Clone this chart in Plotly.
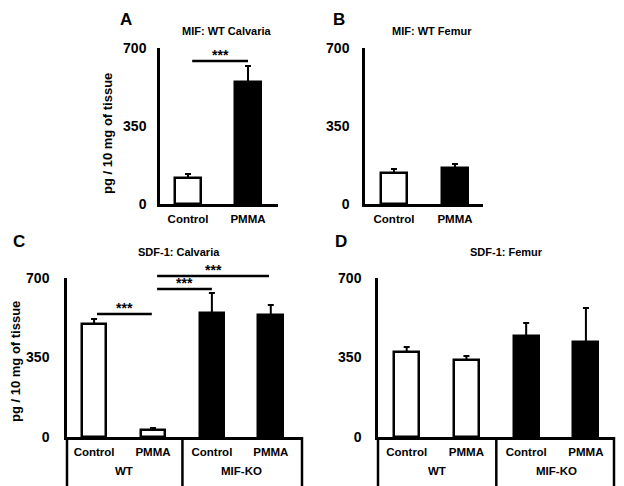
import plotly.graph_objects as go

# Panel data (pg / 10 mg of tissue)
ab_labels = ["Control", "PMMA"]
cd_labels = ["Control", "PMMA", "Control", "PMMA"]
cd_groups = ["WT", "MIF-KO"]

a_means = [117, 547]
a_err = [18, 72]
b_means = [139, 161]
b_err = [18, 18]
c_means = [497, 31, 546, 537]
c_err = [22, 9, 88, 44]
d_means = [374, 339, 445, 418]
d_err = [22, 18, 57, 150]

ab_colors = ["white", "black"]
cd_colors = ["white", "white", "black", "black"]

# significance bars: (from, to, height)
a_sig = [(0.07, 1.0, 642)]
c_sig = [(0.05, 0.98, 541), (1.07, 2.0, 652), (1.07, 2.97, 709)]

YMAX = 700
FONT = "Arial, Liberation Sans, sans-serif"
# the page body keeps its 8px margin, so the figure is 8px smaller and shifted
OFF = 8
W, H = 624 - OFF, 486 - OFF


def px_x(p):
    return (p - OFF) / W


def px_y(p):
    return 1 - (p - OFF) / H


panels = [
    dict(ax="", means=a_means, err=a_err, colors=ab_colors, labels=ab_labels,
         xd=(160, 278), yd=(204, 48), xr=(-0.467, 1.5), title="MIF: WT Calvaria",
         tpos=(227, 31), letter="A", lx=126, tl=8),
    dict(ax="2", means=b_means, err=b_err, colors=ab_colors, labels=ab_labels,
         xd=(365, 483), yd=(204, 48), xr=(-0.475, 1.46), title="MIF: WT Femur",
         tpos=(432, 31), letter="B", lx=339, tl=10),
    dict(ax="3", means=c_means, err=c_err, colors=cd_colors, labels=cd_labels,
         xd=(67, 302), yd=(437, 278), xr=(-0.46, 3.53), title="SDF-1: Calvaria",
         tpos=(179, 252), letter="C", lx=19, tl=12),
    dict(ax="4", means=d_means, err=d_err, colors=cd_colors, labels=cd_labels,
         xd=(378, 614), yd=(437, 278), xr=(-0.48, 3.47), title="SDF-1: Femur",
         tpos=(506, 252), letter="D", lx=341, tl=11),
]

fig = go.Figure()
annotations = []
shapes = []

for p in panels:
    n = len(p["means"])
    xs = list(range(n))
    fig.add_trace(go.Bar(
        x=xs, y=p["means"],
        xaxis="x" + p["ax"], yaxis="y" + p["ax"],
        width=0.42,
        marker=dict(color=p["colors"], line=dict(color="black", width=2.5)),
        error_y=dict(type="data", symmetric=False, array=p["err"],
                     arrayminus=[0] * n, color="black", thickness=2, width=3),
        showlegend=False,
    ))
    fig.update_layout({
        "xaxis" + p["ax"]: dict(
            domain=[px_x(p["xd"][0]), px_x(p["xd"][1])],
            range=list(p["xr"]), anchor="y" + p["ax"],
            tickvals=xs, ticktext=p["labels"], automargin=False,
            showline=True, linecolor="black", linewidth=2.5,
            ticks="outside", ticklen=2, tickcolor="rgba(0,0,0,0)",
            showgrid=False, zeroline=False,
            tickfont=dict(family=FONT, size=11.5, color="black", weight="bold"),
        ),
        "yaxis" + p["ax"]: dict(
            domain=[px_y(p["yd"][0]), px_y(p["yd"][1])],
            range=[0, YMAX], anchor="x" + p["ax"],
            tickvals=[0, 350, 700], automargin=False,
            showline=True, linecolor="black", linewidth=2.5,
            ticks="outside", ticklen=p["tl"], tickcolor="rgba(0,0,0,0)",
            showgrid=False, zeroline=False,
            tickfont=dict(family=FONT, size=14, color="black", weight="bold"),
        ),
    })
    annotations.append(dict(
        text=p["title"], x=px_x(p["tpos"][0]), y=px_y(p["tpos"][1]),
        xref="paper", yref="paper", showarrow=False,
        xanchor="center", yanchor="middle",
        font=dict(family=FONT, size=11, color="black", weight="bold"),
    ))

# panel letters
for p, top in zip(panels, [OFF, OFF, 230, 230]):
    annotations.append(dict(
        text=p["letter"], x=px_x(p["lx"]), y=px_y(top),
        xref="paper", yref="paper", showarrow=False,
        xanchor="center", yanchor="top",
        font=dict(family=FONT, size=17, color="black", weight="bold"),
    ))

# y axis titles
for xpx, ypx in [(107, 134), (15, 362)]:
    annotations.append(dict(
        text="pg / 10 mg of tissue", x=px_x(xpx), y=px_y(ypx),
        xref="paper", yref="paper", showarrow=False, textangle=-90,
        xanchor="center", yanchor="middle",
        font=dict(family=FONT, size=13, color="black", weight="bold"),
    ))

# significance bars and stars
for ax, sigs in [("", a_sig), ("3", c_sig)]:
    for x0, x1, h in sigs:
        shapes.append(dict(
            type="line", xref="x" + ax, yref="y" + ax + " domain",
            x0=x0, x1=x1, y0=h / YMAX, y1=h / YMAX,
            line=dict(color="black", width=2.5),
        ))
        annotations.append(dict(
            text="***", x=(x0 + x1) / 2, y=h / YMAX, xref="x" + ax,
            yref="y" + ax + " domain", showarrow=False,
            xanchor="center", yanchor="bottom", yshift=-4,
            font=dict(family=FONT, size=14, color="black", weight="bold"),
        ))

# group brackets below panels C and D
for ax, zero_px in [("3", 437), ("4", 437)]:
    depth = -(486 - zero_px) / 159
    for xr, xv in [("x" + ax + " domain", 0), ("x" + ax, 1.5), ("x" + ax + " domain", 1)]:
        shapes.append(dict(
            type="line", xref=xr, yref="y" + ax + " domain",
            x0=xv, x1=xv, y0=0, y1=depth,
            line=dict(color="black", width=2.5),
        ))
    for i, g in enumerate(cd_groups):
        annotations.append(dict(
            text=g, x=0.5 + 2 * i, y=-(471 - zero_px) / 159,
            xref="x" + ax, yref="y" + ax + " domain", showarrow=False,
            xanchor="center", yanchor="middle",
            font=dict(family=FONT, size=11.5, color="black", weight="bold"),
        ))

fig.update_layout(
    width=W, height=H,
    margin=dict(l=0, r=0, t=0, b=0, autoexpand=False),
    paper_bgcolor="white", plot_bgcolor="white",
    annotations=annotations, shapes=shapes,
    bargap=0,
)

fig.write_html("out.html")
